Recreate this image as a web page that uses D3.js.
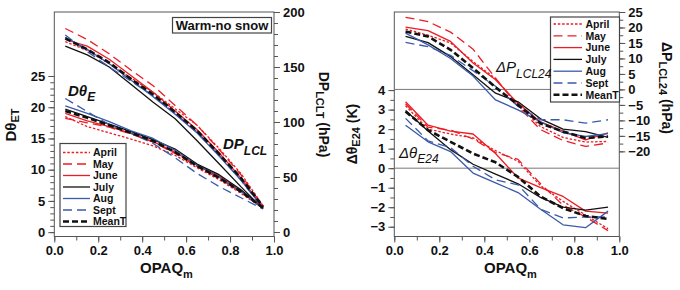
<!DOCTYPE html>
<html><head><meta charset="utf-8">
<script src="https://cdn.jsdelivr.net/npm/d3@7"></script>
<style>
body{margin:0;background:#fff;}
text{font-family:"Liberation Sans",Arial,sans-serif;}
</style></head><body>
<svg id="c" width="680" height="290"></svg>
<script>
// ---------- data ----------
const opaq = [0.05,0.15,0.25,0.35,0.45,0.55,0.65,0.75,0.85,0.95];
const months = ["April","May","June","July","Aug","Sept","MeanT"];
const xTicks = [0,0.2,0.4,0.6,0.8,1.0];

// Left panel: Dθ_ET (left axis), rows in month order
const dThetaET = [
  [18.5,16.9,15.9,14.9,13.8,12.3,10.3,8.4,6.2,3.8],
  [18.2,17.5,16.8,15.7,14.4,12.6,10.5,8.6,6.4,3.9],
  [19.0,17.8,16.9,15.8,14.5,12.8,10.7,9.0,6.6,4.0],
  [19.7,18.5,17.3,16.1,14.8,13.3,10.9,9.2,6.8,3.8],
  [20.2,19.0,17.7,16.2,15.0,13.1,10.7,8.8,6.5,3.8],
  [21.4,19.3,17.2,15.8,14.2,11.9,9.4,7.3,5.5,3.7],
  [19.4,18.3,17.1,15.9,14.6,12.8,10.6,8.7,6.5,3.9]
];
// Left panel: DP_LCLT (hPa, right axis)
const dpLCLT = [
  [173,165,153,140,127,112,97,76,53,24],
  [185,175,162,147,133,115,97,75,52,23],
  [175,169,157,142,127,110,93,72,49,22],
  [169,161,150,134,118,103,83,62,41,21],
  [177,166,153,138,123,107,90,69,47,22],
  [179,164,150,137,124,108,91,70,47,21],
  [176,166,154,139,125,109,92,71,49,23]
];
// Right panel: Δθ_E24 (K, left axis)
const dThetaE24 = [
  [3.2,2.0,1.75,1.55,0.9,0.35,-0.9,-1.7,-2.4,-3.1],
  [3.3,2.1,1.95,1.5,0.8,0.45,-0.8,-1.9,-2.5,-3.2],
  [3.4,2.2,1.9,1.75,0.75,-0.5,-1.0,-1.45,-2.2,-2.3],
  [2.95,1.9,0.95,0.2,-0.3,-0.8,-1.5,-2.0,-2.15,-2.0],
  [2.2,1.35,0.85,-0.25,-0.75,-1.25,-2.1,-2.9,-3.05,-2.2],
  [2.55,1.4,1.05,0.1,-0.6,-0.85,-2.1,-2.55,-2.5,-2.5],
  [2.9,1.95,1.35,0.75,0.3,-0.45,-1.45,-2.05,-2.45,-2.6]
];
// Right panel: ΔP_LCL24 (hPa, right axis)
const dpLCL24 = [
  [19.5,17.5,15.0,9.0,3.5,-5.0,-12.0,-15.5,-17.0,-16.8],
  [23.3,21.9,18.5,13.0,3.6,-5.5,-13.0,-16.5,-18.4,-17.3],
  [20.1,19.0,15.5,8.5,3.1,-4.5,-10.5,-13.5,-16.3,-14.0],
  [17.1,15.1,10.6,4.7,-1.2,-4.0,-9.5,-12.8,-13.6,-15.5],
  [18.2,14.4,10.0,4.3,-3.4,-6.6,-10.5,-14.0,-15.2,-14.3],
  [15.2,13.8,11.0,6.0,1.0,-5.5,-9.8,-9.8,-10.9,-9.8],
  [18.7,17.1,12.8,6.9,0.7,-5.0,-11.0,-13.6,-15.7,-15.2]
];
const leftTicksA = [0,5,10,15,20,25];
const rightTicksA = [0,50,100,150,200];
const leftTicksB = [-3,-2,-1,0,1,2,3,4];
const rightTicksB = [-20,-15,-10,-5,0,5,10,15,20,25];

// ---------- styles ----------
const RED="#ec1c24", BLUE="#3a5aaa", BLACK="#111";
const style = {
  April:{c:RED,w:1.3,d:"2.5,1.8"},
  May:{c:RED,w:1.3,d:"9,5"},
  June:{c:RED,w:1.3,d:null},
  July:{c:BLACK,w:1.3,d:null},
  Aug:{c:BLUE,w:1.3,d:null},
  Sept:{c:BLUE,w:1.3,d:"9,5"},
  MeanT:{c:BLACK,w:2.6,d:"6,3"}
};
const AX="#555";
const svg = d3.select("#c");
const TOP=12, BOT=236.5;

function styleAxis(g){
  g.select(".domain").remove();
  g.selectAll(".tick line").attr("stroke",AX);
  g.selectAll(".tick text").attr("fill","#111").style("font-size","13px").style("font-weight","bold");
}

function panel(x0,x1,yL,yR,ticksL,minorL,ticksR,minorR,dataL,dataR){
  const x = d3.scaleLinear().domain([0,1]).range([x0,x1]);
  const g = svg.append("g");
  // axes
  g.append("g").attr("transform",`translate(0,${BOT})`)
    .call(d3.axisBottom(x).tickValues(d3.range(0,1.001,0.1)).tickSize(4).tickFormat("")).call(styleAxis);
  g.append("g").attr("transform",`translate(0,${BOT})`)
    .call(d3.axisBottom(x).tickValues(xTicks).tickSize(6).tickFormat(d3.format(".1f"))).call(styleAxis);
  g.append("g").attr("transform",`translate(${x0},0)`)
    .call(d3.axisLeft(yL).tickValues(minorL).tickSize(4).tickFormat("")).call(styleAxis);
  g.append("g").attr("transform",`translate(${x0},0)`)
    .call(d3.axisLeft(yL).tickValues(ticksL).tickSize(6).tickFormat(d3.format("d"))).call(styleAxis);
  g.append("g").attr("transform",`translate(${x1},0)`)
    .call(d3.axisRight(yR).tickValues(minorR).tickSize(4).tickFormat("")).call(styleAxis);
  g.append("g").attr("transform",`translate(${x1},0)`)
    .call(d3.axisRight(yR).tickValues(ticksR).tickSize(6).tickFormat(d3.format("d"))).call(styleAxis);
  g.append("rect").attr("x",x0).attr("y",TOP).attr("width",x1-x0).attr("height",BOT-TOP)
    .attr("fill","none").attr("stroke",AX).attr("stroke-width",1);
  return {x,g};
}

function drawSeries(g,x,y,data){
  const line = d3.line().x((d,i)=>x(opaq[i])).y(d=>y(d));
  months.forEach((m,k)=>{
    const s=style[m];
    g.append("path").datum(data[k]).attr("d",line).attr("fill","none")
      .attr("stroke",s.c).attr("stroke-width",s.w)
      .attr("stroke-dasharray",s.d).attr("stroke-linejoin","round");
  });
}

function legend(g,bx,by,bw,bh,lx0,lx1,tx,row0,dy){
  g.append("rect").attr("x",bx).attr("y",by).attr("width",bw).attr("height",bh)
    .attr("fill","#fff").attr("stroke","#444").attr("stroke-width",1.2);
  months.forEach((m,k)=>{
    const s=style[m], yy=row0+k*dy;
    g.append("line").attr("x1",lx0).attr("x2",lx1).attr("y1",yy).attr("y2",yy)
      .attr("stroke",s.c).attr("stroke-width",s.w).attr("stroke-dasharray",s.d);
    g.append("text").attr("x",tx).attr("y",yy+3.8).text(m)
      .style("font-size","10.5px").style("font-weight","bold").attr("fill","#111");
  });
}

function subText(g,x,y,main,sub,rest,opts){
  const t=g.append("text").attr("transform",`translate(${x},${y}) rotate(${opts.rot||0})`)
    .attr("text-anchor",opts.anchor||"start")
    .style("font-size",opts.fs+"px").style("font-weight",opts.fw||"bold")
    .style("font-style",opts.it?"italic":"normal").attr("fill","#111");
  t.append("tspan").text(main);
  t.append("tspan").text(sub).attr("dy",opts.sdy).style("font-size",opts.sfs+"px");
  if(rest) t.append("tspan").text(rest).attr("dy",-opts.sdy);
  return t;
}

// ---------- left panel ----------
const yLA = d3.scaleLinear().domain([-0.7,35.25]).range([BOT,TOP]);
const yRA = d3.scaleLinear().domain([-4.1,200]).range([BOT,TOP]);
const A = panel(54.3,274,yLA,yRA,leftTicksA,d3.range(0,25.01,1),rightTicksA,d3.range(0,200.01,10));
drawSeries(A.g,A.x,yRA,dpLCLT);
drawSeries(A.g,A.x,yLA,dThetaET);
legend(A.g,60,143.5,66,83,63,90,93,152.5,11.5);
A.g.append("rect").attr("x",172.5).attr("y",17.5).attr("width",99).attr("height",15.5)
  .attr("fill","#fff").attr("stroke","#444").attr("stroke-width",1.2);
A.g.append("text").attr("x",222).attr("y",30).attr("text-anchor","middle").text("Warm-no snow")
  .style("font-size","13px").style("font-weight","bold").attr("fill","#111");
subText(A.g,68,96,"Dθ","E",null,{fs:15,sfs:12,sdy:5,it:true});
subText(A.g,223,149,"DP","LCL",null,{fs:15,sfs:12,sdy:6,it:true});
subText(A.g,16,125,"Dθ","ET",null,{fs:15,sfs:11,sdy:3,rot:-90,anchor:"middle"});
subText(A.g,319,114.5,"DP","LCLT"," (hPa)",{fs:14,sfs:11,sdy:3,rot:90,anchor:"middle"});
subText(A.g,140,273,"OPAQ","m",null,{fs:15,sfs:11,sdy:5});

// ---------- right panel ----------
const yLB = d3.scaleLinear().domain([-3.5,8]).range([BOT,TOP]);
const yRB = d3.scaleLinear().domain([-47.5,25]).range([BOT,TOP]);
const B = panel(394.3,619.3,yLB,yRB,leftTicksB,d3.range(-3,4.01,0.5),rightTicksB,d3.range(-20,25.01,2.5));
B.g.append("line").attr("x1",394.3).attr("x2",619.3).attr("y1",yRB(0)).attr("y2",yRB(0)).attr("stroke","#777").attr("stroke-width",1);
B.g.append("line").attr("x1",394.3).attr("x2",619.3).attr("y1",yLB(0)).attr("y2",yLB(0)).attr("stroke","#777").attr("stroke-width",1);
drawSeries(B.g,B.x,yRB,dpLCL24);
drawSeries(B.g,B.x,yLB,dThetaE24);
legend(B.g,550.5,17,69,85,553.5,582,585.5,24,11.8);
subText(B.g,496,72,"ΔP","LCL24",null,{fs:15,sfs:12,sdy:6,it:true,fw:"normal"});
subText(B.g,399,158,"Δθ","E24",null,{fs:15,sfs:12,sdy:5,it:true,fw:"normal"});
subText(B.g,356.5,134,"Δθ","E24"," (K)",{fs:14,sfs:11,sdy:3,rot:-90,anchor:"middle"});
subText(B.g,662,88,"ΔP","LCL24"," (hPa)",{fs:14,sfs:11,sdy:3,rot:90,anchor:"middle"});
subText(B.g,484,273,"OPAQ","m",null,{fs:15,sfs:11,sdy:5});
</script>
</body></html>
